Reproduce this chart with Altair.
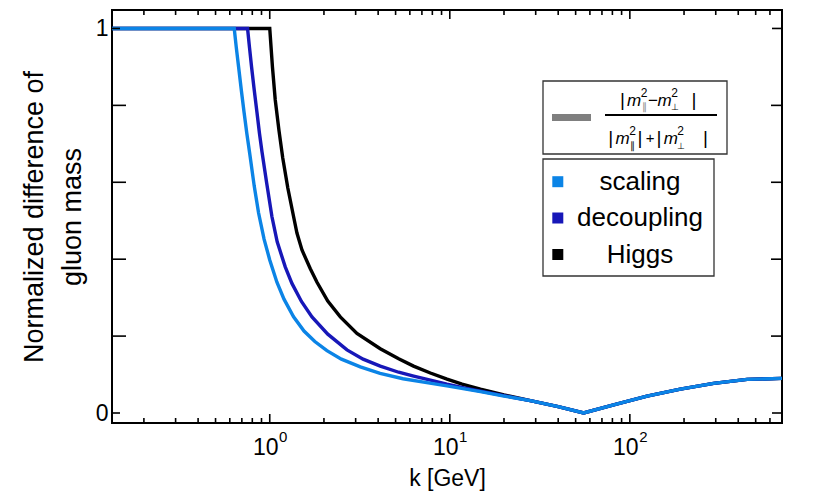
import altair as alt
import pandas as pd

# ---------------- data ----------------
series_names = ["scaling", "decoupling", "Higgs"]
series_colors = ["#0b84e6", "#1717b8", "#000000"]

scaling_k = [0.133, 0.635, 0.652, 0.671, 0.695, 0.72, 0.746, 0.774, 0.82, 0.867, 0.93, 1.0,
             1.096, 1.2, 1.356, 1.55, 1.78, 2.078, 2.5, 3.184, 4.1, 5.5, 7.3, 9.64, 14.8,
             20.0, 28.0, 40.0, 55.4, 81.3, 124.6, 190.8, 292.0, 448.0, 700.0]
scaling_v = [1.0, 1.0, 0.95, 0.901, 0.84, 0.782, 0.727, 0.675, 0.59, 0.52, 0.452, 0.398,
             0.34, 0.296, 0.25, 0.213, 0.186, 0.162, 0.14, 0.12, 0.103, 0.089, 0.0795, 0.0705, 0.0555,
             0.044, 0.032, 0.0165, 0.0, 0.021, 0.044, 0.062, 0.077, 0.0875, 0.09]

decoupling_k = [0.133, 0.753, 0.772, 0.792, 0.82, 0.849, 0.877, 0.905, 0.96, 1.028, 1.1, 1.219,
                1.328, 1.5, 1.716, 2.1, 2.685, 3.3, 4.11, 5.2, 6.3, 7.6, 9.64, 12.0, 14.8, 20.0,
                28.0, 40.0, 55.4, 81.3, 124.6, 190.8, 292.0, 448.0, 700.0]
decoupling_v = [1.0, 1.0, 0.95, 0.901, 0.84, 0.782, 0.727, 0.68, 0.6, 0.511, 0.445, 0.38,
                0.337, 0.29, 0.25, 0.205, 0.164, 0.14, 0.122, 0.106, 0.096, 0.087, 0.075, 0.065, 0.057, 0.045,
                0.032, 0.0165, 0.0, 0.021, 0.044, 0.062, 0.077, 0.0875, 0.09]

higgs_k = [0.133, 1.0, 1.035, 1.073, 1.125, 1.181, 1.26, 1.356, 1.416, 1.51, 1.68, 1.83, 2.1,
           2.465, 3.05, 4.11, 5.2, 6.29, 7.8, 9.65, 11.7, 14.8, 20.0, 25.0, 28.0, 40.0, 55.4,
           81.3, 124.6, 190.8, 292.0, 448.0, 700.0]
higgs_v = [1.0, 1.0, 0.9, 0.814, 0.735, 0.663, 0.585, 0.511, 0.468, 0.424, 0.375, 0.34, 0.291,
           0.25, 0.207, 0.167, 0.141, 0.122, 0.104, 0.088, 0.075, 0.062, 0.047, 0.037, 0.032, 0.0165, 0.0,
           0.021, 0.044, 0.062, 0.077, 0.0875, 0.09]

x_major_ticks = [1, 10, 100]
x_label_base = ["10", "10", "10"]
x_label_exp = ["0", "1", "2"]
x_minor_ticks = [0.2, 0.3, 0.4, 0.5, 0.6, 0.7, 0.8, 0.9,
                 2, 3, 4, 5, 6, 7, 8, 9,
                 20, 30, 40, 50, 60, 70, 80, 90,
                 200, 300, 400, 500, 600, 700]
y_label_ticks = [0, 1]
y_minor_ticks = [0.2, 0.4, 0.6, 0.8]

x_title = "k [GeV]"
y_title = ["Normalized difference of", "gluon mass"]

# ---------------- layout / style ----------------
W, H = 670, 413
FONT = "Liberation Sans"

xscale = alt.Scale(type="log", domain=[0.133, 700], nice=False)
yscale = alt.Scale(domain=[-0.026, 1.048], nice=False, zero=False)

xaxis = alt.Axis(values=x_major_ticks, labels=False, ticks=False, tickSize=0,
                 domain=False, grid=False, title=x_title, titleFont=FONT,
                 titleFontSize=23, titleFontWeight="normal", titleColor="black",
                 titleBaseline="alphabetic", titleY=62)
yaxis = alt.Axis(values=y_label_ticks, format="d", ticks=False, tickSize=0, domain=False,
                 grid=False, labelFont=FONT, labelFontSize=23, labelColor="black",
                 labelPadding=4, title=y_title, titleFont=FONT, titleFontSize=27,
                 titleFontWeight="normal", titleColor="black", titleAngle=270,
                 titleBaseline="alphabetic", titleAlign="center", titleX=-70,
                 titleY=H / 2, titleLineHeight=38)

X = alt.X("k:Q", scale=xscale, axis=xaxis)
Y = alt.Y("v:Q", scale=yscale, axis=yaxis)

layers = []

# curves (drawn Higgs first so that scaling is on top)
series_data = {"scaling": (scaling_k, scaling_v),
               "decoupling": (decoupling_k, decoupling_v),
               "Higgs": (higgs_k, higgs_v)}
for name in reversed(series_names):
    ks, vs = series_data[name]
    color = series_colors[series_names.index(name)]
    df = pd.DataFrame({"k": ks, "v": vs})
    layers.append(alt.Chart(df).mark_line(color=color, strokeWidth=3.4, clip=True)
                  .encode(x=X, y=Y))

# inward ticks on all four sides
def xticks(vals, length):
    df = pd.DataFrame({"k": vals})
    base = alt.Chart(df).mark_rule(color="black", strokeWidth=1.6)
    return [base.encode(x=X, y=alt.value(H), y2=alt.value(H - length)),
            base.encode(x=X, y=alt.value(0), y2=alt.value(length))]

def yticks(vals, left_len, right_len):
    df = pd.DataFrame({"v": vals})
    base = alt.Chart(df).mark_rule(color="black", strokeWidth=1.6)
    return [base.encode(y=Y, x=alt.value(0), x2=alt.value(left_len)),
            base.encode(y=Y, x=alt.value(W), x2=alt.value(W - right_len))]

layers += xticks(x_major_ticks, 9)
layers += xticks(x_minor_ticks, 5)
layers += yticks(y_label_ticks, 8, 10)
layers += yticks(y_minor_ticks, 14, 11)

# x tick labels "10" with superscript exponent
lab_df = pd.DataFrame({"k": x_major_ticks, "base": x_label_base, "exp": x_label_exp})
layers.append(alt.Chart(lab_df).mark_text(font=FONT, fontSize=23, color="black", align="center",
                                          baseline="alphabetic", dx=-4).encode(
    x=X, y=alt.value(H + 32), text="base:N"))
layers.append(alt.Chart(lab_df).mark_text(font=FONT, fontSize=15, color="black", align="center",
                                          baseline="alphabetic", dx=13.5).encode(
    x=X, y=alt.value(H + 19), text="exp:N"))

# ---------------- legend boxes ----------------
one = pd.DataFrame({"a": [0]})

def box(x1, x2, y1, y2):
    return alt.Chart(one).mark_rect(fill="white", stroke="#333333", strokeWidth=1.3).encode(
        x=alt.value(x1), x2=alt.value(x2), y=alt.value(y1), y2=alt.value(y2))

layers.append(box(431, 615, 71, 144))
layers.append(box(431, 602, 149, 266))

# formula box: gray swatch, fraction
layers.append(alt.Chart(one).mark_rule(color="#7f7f7f", strokeWidth=7).encode(
    x=alt.value(440), x2=alt.value(479), y=alt.value(107.5)))
layers.append(alt.Chart(one).mark_rule(color="black", strokeWidth=1.8).encode(
    x=alt.value(493), x2=alt.value(605), y=alt.value(105)))

formula_pieces = [
    # text, x, y(baseline), size, italic, color
    ("|", 510.5, 96, 19, False, "black"),
    ("m", 522, 96, 17, True, "black"),
    ("2", 532, 87, 12, False, "black"),
    ("\u2225", 532, 100, 10, False, "#888888"),
    ("\u2212", 541, 96, 17, False, "black"),
    ("m", 552.5, 96, 17, True, "black"),
    ("2", 562.5, 87, 12, False, "black"),
    ("\u22a5", 562.5, 100, 9, False, "black"),
    ("|", 582, 96, 19, False, "black"),
    ("|", 498.7, 134, 19, False, "black"),
    ("m", 510.5, 134, 17, True, "black"),
    ("2", 520.5, 125, 12, False, "black"),
    ("\u2225", 520.5, 139, 10, False, "black"),
    ("|", 528, 134, 19, False, "black"),
    ("+", 538, 133, 15, False, "black"),
    ("|", 547, 134, 19, False, "black"),
    ("m", 558.8, 134, 17, True, "black"),
    ("2", 568.5, 125, 12, False, "black"),
    ("\u22a5", 568.5, 139, 9, False, "black"),
    ("|", 593.5, 134, 19, False, "black"),
]
for t, px, py, sz, it, col in formula_pieces:
    layers.append(alt.Chart(one).mark_text(
        text=t, font=FONT, fontSize=sz, fontStyle="italic" if it else "normal",
        color=col, align="center", baseline="alphabetic").encode(
        x=alt.value(px), y=alt.value(py)))

# series legend
legend_rows_y = [171.7, 208, 244.5]
for name, col, ry in zip(series_names, series_colors, legend_rows_y):
    layers.append(alt.Chart(one).mark_square(size=121, color=col, opacity=1, filled=True).encode(
        x=alt.value(445.8), y=alt.value(ry)))
    layers.append(alt.Chart(one).mark_text(
        text=name, font=FONT, fontSize=26, color="black", align="center",
        baseline="middle").encode(x=alt.value(528), y=alt.value(ry)))

chart = alt.layer(*layers).properties(
    width=W, height=H, background="white",
    autosize=alt.AutoSizeParams(type="none"),
    padding={"left": 104, "top": 2, "right": 40, "bottom": 70},
).configure_view(stroke="black", strokeWidth=2)

chart.save("out.html", embed_options={"renderer": "svg", "actions": False})
